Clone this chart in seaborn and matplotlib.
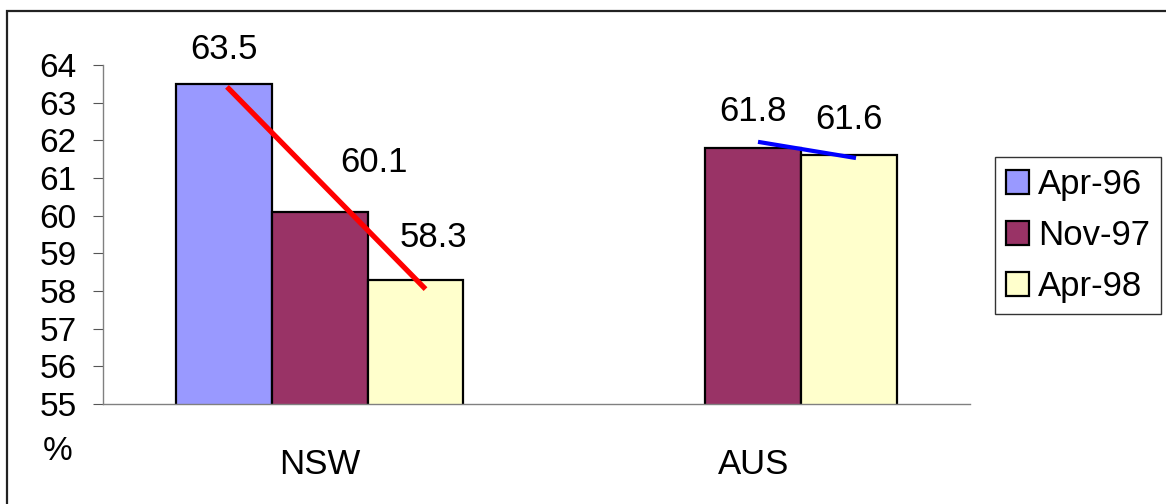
import numpy as np
import pandas as pd
import matplotlib
matplotlib.use("Agg")
import matplotlib.pyplot as plt
import matplotlib.patches as mpatches
import seaborn as sns

# ---- data ----
regions = ["NSW", "AUS"]
periods = ["Apr-96", "Nov-97", "Apr-98"]
nsw_values = [63.5, 60.1, 58.3]
aus_values = [np.nan, 61.8, 61.6]
colors = ["#9999FF", "#993366", "#FFFFCC"]
yticks = list(range(55, 65))

# trend lines (data coords)
nsw_trend_x = [-0.214, 0.244]
nsw_trend_y = [63.42, 58.05]
aus_trend_x = [1.011, 1.237]
aus_trend_y = [61.96, 61.53]

rows = []
for r, vals in zip(regions, [nsw_values, aus_values]):
    for p, v in zip(periods, vals):
        rows.append({"region": r, "period": p, "value": v})
df = pd.DataFrame(rows)

sns.set_style("white")
plt.rcParams["font.family"] = ["Liberation Sans", "DejaVu Sans"]
plt.rcParams["text.color"] = "black"

W, H = 1166, 504
fig = plt.figure(figsize=(W / 100, H / 100), dpi=100)
ax = fig.add_axes([103 / W, 1 - 404 / H, (970 - 103) / W, (404 - 65) / H])

sns.barplot(data=df, x="region", y="value", hue="period", order=regions,
            hue_order=periods, palette=colors, saturation=1, width=0.662,
            edgecolor="black", linewidth=1.6, errorbar=None, legend=False, ax=ax)

ax.set_ylim(55, 64)
ax.set_xlim(-0.5, 1.5)
ax.set_yticks(yticks)
ax.set_yticklabels([str(t) for t in yticks], fontsize=24)
ax.set_xticks([0, 1])
ax.set_xticklabels(regions, fontsize=25)
ax.set_xticks([-0.5, 0.5, 1.5], minor=True)
ax.tick_params(axis="x", which="major", length=0, pad=32, labelcolor="black")
ax.tick_params(axis="x", which="minor", length=7, width=0.8, color="#555555", direction="out")
ax.tick_params(axis="y", length=7, width=0.8, color="#555555", direction="out", pad=12,
               left=True, labelcolor="black")
ax.set_xlabel("")
ax.set_ylabel("")
for s in ["top", "right"]:
    ax.spines[s].set_visible(False)
for s in ["left", "bottom"]:
    ax.spines[s].set_color("#808080")
    ax.spines[s].set_linewidth(1.0)

# value labels
offsets = {("NSW", "Apr-96"): (0, 34), ("NSW", "Nov-97"): (54, 49),
           ("NSW", "Apr-98"): (18, 42), ("AUS", "Nov-97"): (0, 36),
           ("AUS", "Apr-98"): (0, 36)}
for cont, p in zip(ax.containers, periods):
    for bar in cont:
        h = bar.get_height()
        if h is None or np.isnan(h):
            continue
        cx = bar.get_x() + bar.get_width() / 2
        region = regions[int(round(cx))]
        dx, dy = offsets.get((region, p), (0, 30))
        ax.annotate(f"{h:.1f}", xy=(cx, h), xytext=(dx, dy), textcoords="offset pixels",
                    ha="center", va="center", fontsize=25, annotation_clip=False)

ax.plot(nsw_trend_x, nsw_trend_y, color="#FF0000", lw=3.8, solid_capstyle="butt", clip_on=False)
ax.plot(aus_trend_x, aus_trend_y, color="#0000FF", lw=3.0, solid_capstyle="butt", clip_on=False)

# % label
fig.text(58 / W, 1 - 451 / H, "%", fontsize=24, ha="center", va="center")

# legend
handles = [mpatches.Patch(facecolor=c, edgecolor="black", linewidth=1.6) for c in colors]
leg = fig.legend(handles, periods, loc="upper left", bbox_to_anchor=(995 / W, 1 - 157 / H),
                 bbox_transform=fig.transFigure, fontsize=25, frameon=True, fancybox=False,
                 shadow=False, handlelength=0.66, handleheight=0.66, handletextpad=0.26,
                 labelspacing=0.52, borderpad=0.32, borderaxespad=0)
leg.get_frame().set_edgecolor("black")
leg.get_frame().set_linewidth(1.0)

# outer border
fig.patches.append(mpatches.Rectangle((7 / W, -0.1), 1.2, 1 - 11 / H + 0.1, transform=fig.transFigure,
                                      fill=False, edgecolor="#222222", linewidth=1.6, figure=fig))

fig.savefig("out.png", dpi=100)
